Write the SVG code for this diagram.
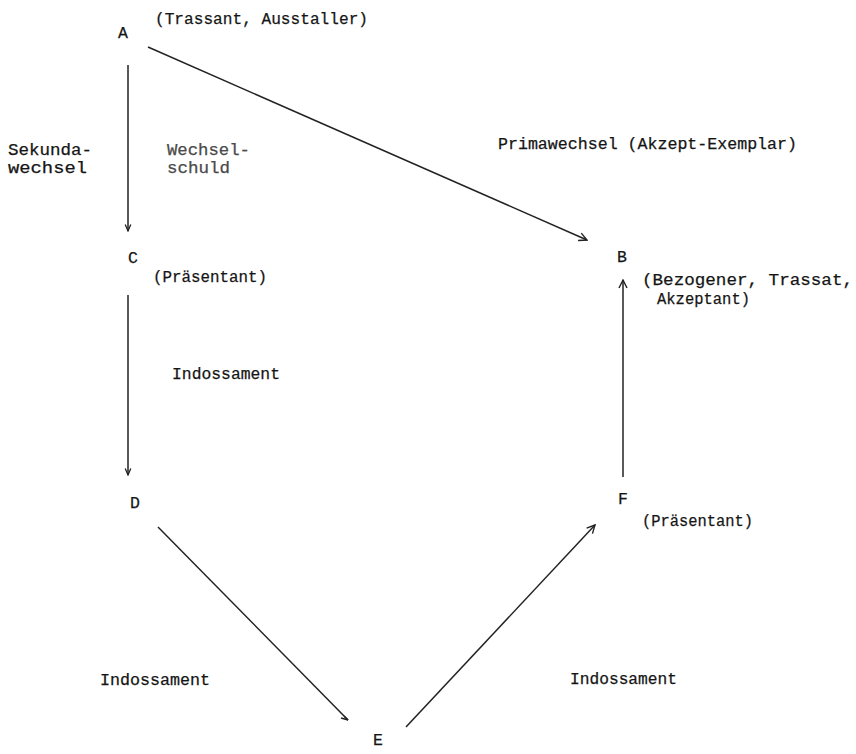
<svg xmlns="http://www.w3.org/2000/svg" width="856" height="754" viewBox="0 0 856 754">
  <defs>
    <style>
      text { font-family: "Liberation Mono", "DejaVu Sans Mono", monospace; font-size: 16.5px; fill: #151515; stroke: #151515; stroke-width: 0.25; }
      .faint { fill: #4a4a4a; stroke: #4a4a4a; }
      .edge { stroke: #222; stroke-width: 1.5; fill: none; }
    </style>
    <marker id="arr" viewBox="0 0 10 10" refX="9" refY="5" markerWidth="10" markerHeight="10" markerUnits="userSpaceOnUse" orient="auto">
      <polyline points="1,1 9,5 1,9" fill="none" stroke="#222" stroke-width="1.4"/>
    </marker>
    <marker id="arrs" viewBox="0 0 10 10" refX="9" refY="5" markerWidth="8" markerHeight="8" markerUnits="userSpaceOnUse" orient="auto">
      <polyline points="1,1.5 9,5 1,8.5" fill="none" stroke="#222" stroke-width="1.6"/>
    </marker>
    <marker id="arrh" viewBox="0 0 10 10" refX="9" refY="5" markerWidth="9" markerHeight="9" markerUnits="userSpaceOnUse" orient="auto">
      <polyline points="2,9 9,5" fill="none" stroke="#222" stroke-width="1.6"/>
      <polyline points="3,5 9,5" fill="none" stroke="#222" stroke-width="1.6"/>
    </marker>
  </defs>
  <rect width="856" height="754" fill="#ffffff"/>

  <g id="connectors">
    <line id="A-B" class="edge" x1="148" y1="47" x2="587" y2="240" marker-end="url(#arr)"/>
    <line id="A-C" class="edge" x1="128" y1="65" x2="128" y2="231" marker-end="url(#arrs)"/>
    <line id="C-D" class="edge" x1="128" y1="295" x2="128" y2="475" marker-end="url(#arrs)"/>
    <line id="D-E" class="edge" x1="158" y1="527" x2="348" y2="720" marker-end="url(#arrh)"/>
    <line id="E-F" class="edge" x1="406" y1="727" x2="595" y2="525" marker-end="url(#arr)"/>
    <line id="F-B" class="edge" x1="623" y1="477" x2="623" y2="280" marker-end="url(#arr)"/>

    <text x="8" y="155" textLength="84" lengthAdjust="spacingAndGlyphs">Sekunda-</text>
    <text x="8" y="173" textLength="79" lengthAdjust="spacingAndGlyphs">wechsel</text>
    <text class="faint" x="167" y="155" textLength="83" lengthAdjust="spacingAndGlyphs">Wechsel-</text>
    <text class="faint" x="167" y="173" textLength="63" lengthAdjust="spacingAndGlyphs">schuld</text>
    <text x="498" y="149" textLength="299" lengthAdjust="spacingAndGlyphs">Primawechsel (Akzept-Exemplar)</text>
    <text x="172" y="379" textLength="108" lengthAdjust="spacingAndGlyphs">Indossament</text>
    <text x="100" y="685" textLength="110" lengthAdjust="spacingAndGlyphs">Indossament</text>
    <text x="570" y="684" textLength="107" lengthAdjust="spacingAndGlyphs">Indossament</text>
  </g>

  <g id="node-A">
    <text x="118" y="38">A</text>
    <text x="155" y="24" textLength="213" lengthAdjust="spacingAndGlyphs">(Trassant, Ausstaller)</text>
  </g>
  <g id="node-B">
    <text x="617" y="262">B</text>
    <text x="642" y="285" textLength="211" lengthAdjust="spacingAndGlyphs">(Bezogener, Trassat,</text>
    <text x="657" y="304" textLength="93" lengthAdjust="spacingAndGlyphs">Akzeptant)</text>
  </g>
  <g id="node-C">
    <text x="128" y="263">C</text>
    <text x="153" y="282" textLength="114" lengthAdjust="spacingAndGlyphs">(Präsentant)</text>
  </g>
  <g id="node-D">
    <text x="130" y="508">D</text>
  </g>
  <g id="node-E">
    <text x="373" y="745">E</text>
  </g>
  <g id="node-F">
    <text x="618" y="504">F</text>
    <text x="642" y="526" textLength="111" lengthAdjust="spacingAndGlyphs">(Präsentant)</text>
  </g>
</svg>
